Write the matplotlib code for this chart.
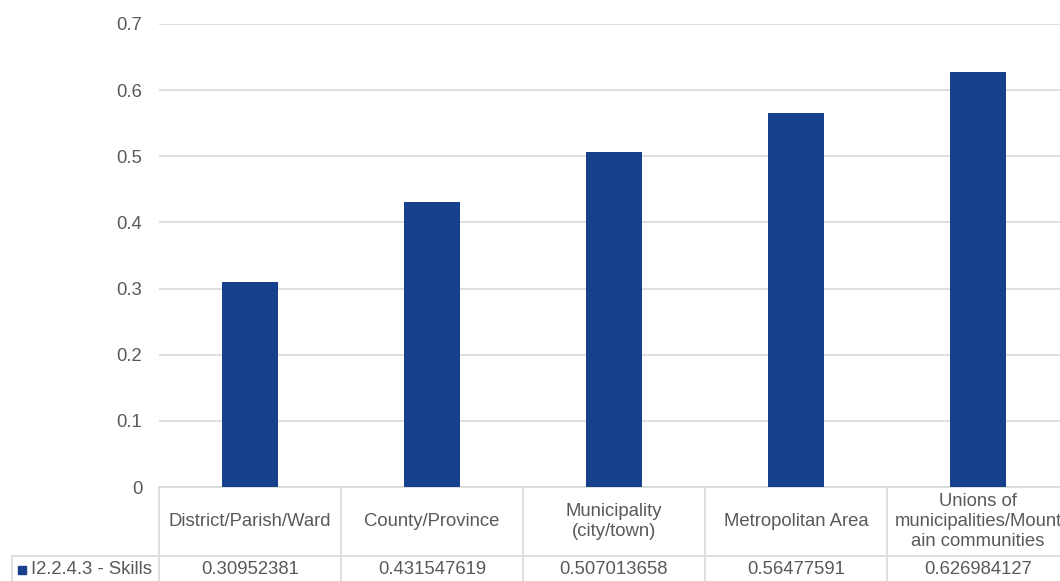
import matplotlib.pyplot as plt
import numpy as np

plt.rcParams["font.family"] = ["Liberation Sans", "DejaVu Sans"]

# Data
categories = [
    "District/Parish/Ward",
    "County/Province",
    "Municipality\n(city/town)",
    "Metropolitan Area",
    "Unions of\nmunicipalities/Mount\nain communities",
]
values = [0.30952381, 0.431547619, 0.507013658, 0.56477591, 0.626984127]
value_labels = ["0.30952381", "0.431547619", "0.507013658", "0.56477591", "0.626984127"]
series_name = "I2.2.4.3 - Skills"
yticks = [0, 0.1, 0.2, 0.3, 0.4, 0.5, 0.6, 0.7]

W, H = 1060, 581
bar_color = "#17408F"
text_color = "#595959"
grid_color = "#D9D9D9"
fs = 13.3

fig = plt.figure(figsize=(W / 100, H / 100), dpi=100)
left_px, right_px, top_px, bottom_px = 159, 159 + 5 * 182, 24, 487
ax = fig.add_axes([left_px / W, 1 - bottom_px / H,
                   (right_px - left_px) / W, (bottom_px - top_px) / H])

x = np.arange(len(categories))
ax.bar(x, values, width=0.313, color=bar_color, zorder=3)

ax.set_xlim(-0.5, len(categories) - 0.5)
ax.set_ylim(0, 0.7)
ax.set_yticks(yticks)
ax.set_yticklabels([f"{t:g}" for t in yticks], fontsize=fs, color=text_color)
ax.tick_params(axis="y", length=0, pad=12)
ax.set_xticks([])
ax.grid(axis="y", color=grid_color, linewidth=1.2, zorder=0)
for s in ax.spines.values():
    s.set_visible(False)

# Data table under the axis
ax_h = bottom_px - top_px
ax_w = right_px - left_px
row1 = -(556 - bottom_px) / ax_h
row2 = -(H - bottom_px) / ax_h
legend_left = -0.5 + (12 - left_px) / ax_w * len(categories)
line_kw = dict(color=grid_color, linewidth=1.2, clip_on=False, zorder=1)
trans = ax.get_xaxis_transform()

ax.plot([-0.5, len(categories) - 0.5], [0, 0], transform=trans, **line_kw)
ax.plot([legend_left, len(categories) - 0.5], [row1, row1], transform=trans, **line_kw)
ax.plot([legend_left, legend_left], [row1, row2], transform=trans, **line_kw)
for b in np.arange(len(categories) + 1) - 0.5:
    ax.plot([b, b], [0, row2], transform=trans, **line_kw)

for i, (cat, lab) in enumerate(zip(categories, value_labels)):
    ax.text(i, row1 / 2, cat, transform=trans, ha="center", va="center",
            fontsize=fs, color=text_color, linespacing=1.2, clip_on=False)
    ax.text(i, -(569 - bottom_px) / ax_h, lab, transform=trans, ha="center",
            va="center", fontsize=fs, color=text_color, clip_on=False)

# Legend key in the table
fig.patches.append(plt.Rectangle((18 / W, 1 - 574 / H), 8 / W, 8 / H,
                                 transform=fig.transFigure, color=bar_color))
fig.text(31 / W, 1 - 569 / H, series_name, ha="left", va="center",
         fontsize=fs, color=text_color)

fig.savefig("out.png", dpi=100)
